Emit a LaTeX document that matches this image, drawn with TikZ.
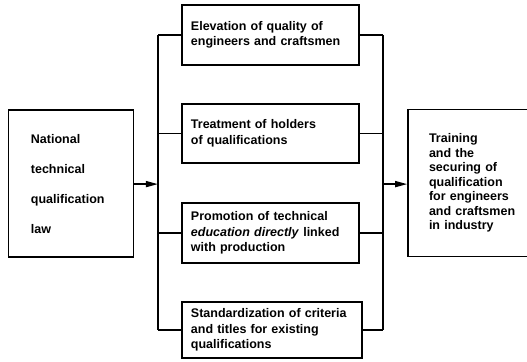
\documentclass[tikz,border=0pt]{standalone}
\usepackage{fontspec}
\setmainfont{Liberation Sans}
\usetikzlibrary{arrows.meta}
\hyphenpenalty=10000
\exhyphenpenalty=10000

\tikzset{
  aimbox/.style={draw, line width=1.5pt, font=\fontsize{12.5}{15.5}\selectfont\bfseries,
    text width=5.6cm, align=left, inner xsep=0.31cm, minimum height=2.1cm},
  sidebox/.style={draw, line width=1.5pt, align=left, anchor=west, minimum height=5.18cm},
  link/.style={line width=1.5pt},
  feed/.style={line width=1.5pt, -{Triangle[length=12pt,width=6pt]}}
}

\begin{document}
\begin{tikzpicture}
      \useasboundingbox (0,0) rectangle (18.52,12.69);
      \node[sidebox, text width=2.83cm, inner xsep=0.78cm,
            font=\fontsize{12.5}{30}\selectfont\bfseries] (law) at (0.28,6.24)
        {National\\technical\\qualification\\law};
      \node[aimbox] (elev) at (9.51,11.46) {Elevation of quality of\\engineers and craftsmen};
      \node[aimbox, minimum height=2.07cm] (treat) at (9.51,8.00) {Treatment of holders\\of qualifications};
      \node[aimbox] (promo) at (9.51,4.50)
        {Promotion of technical\\\textit{education directly} linked\\with production};
      \node[aimbox, minimum height=1.97cm, text width=5.7cm] (stand) at (9.56,1.09)
        {Standardization of criteria\\and titles for existing\\qualifications};
      \node[sidebox, text width=6cm, inner xsep=0.74cm,
            font=\fontsize{12.5}{14.4}\selectfont\bfseries] (goal) at (14.31,6.26)
        {Training\\and the\\securing of\\qualification\\for engineers\\and craftsmen\\in industry};
      \coordinate (lbus) at (5.55,6.22);
      \coordinate (rbus) at (13.46,6.22);
      \foreach \b in {elev,treat,promo,stand} {
        \draw[link] (\b.west) -- (\b.west -| lbus);
        \draw[link] (\b.east) -- (\b.east -| rbus);
      }
      \draw[link] (elev.west -| lbus) -- (stand.west -| lbus);
      \draw[link] (elev.east -| rbus) -- (stand.east -| rbus);
      \draw[feed] (law.east |- lbus) -- (lbus);
      \draw[feed] (rbus) -- (goal.west |- rbus);
    \end{tikzpicture}
\end{document}
